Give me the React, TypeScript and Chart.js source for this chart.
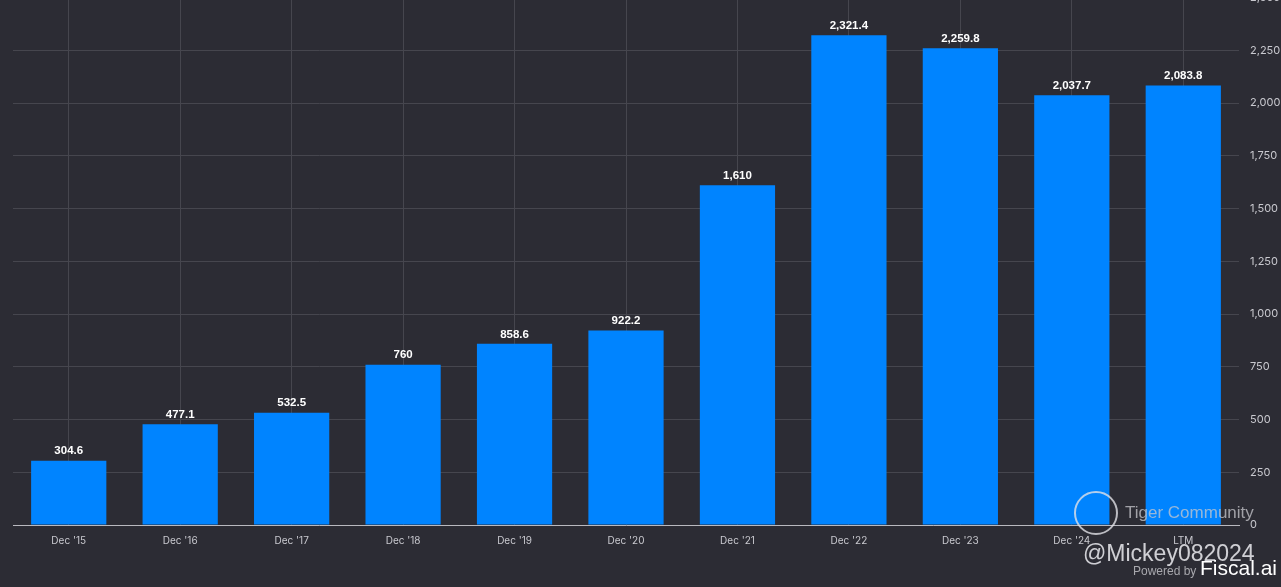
import React, { useEffect, useRef } from "react";
import { Chart, registerables } from "chart.js";

Chart.register(...registerables);

const categories = ["Dec '15", "Dec '16", "Dec '17", "Dec '18", "Dec '19", "Dec '20", "Dec '21", "Dec '22", "Dec '23", "Dec '24", "LTM"];
const values = [304.6, 477.1, 532.5, 760, 858.6, 922.2, 1610, 2321.4, 2259.8, 2037.7, 2083.8];
const yTicksMax = 2500;
const yTickStep = 250;

const BG = "#2c2c34";

const labelPlugin = {
  id: "barLabels",
  afterDatasetsDraw(chart: any) {
    const ctx = chart.ctx;
    const meta = chart.getDatasetMeta(0);
    ctx.save();
    ctx.fillStyle = "#ffffff";
    ctx.font = "bold 11.5px 'Liberation Sans', Arial, sans-serif";
    ctx.textAlign = "center";
    ctx.textBaseline = "middle";
    meta.data.forEach((bar: any, i: number) => {
      const v = values[i];
      ctx.fillText(v.toLocaleString("en-US", { maximumFractionDigits: 1 }), bar.x, bar.y - 9.5);
    });
    ctx.restore();
  },
};

export default function App() {
  const ref = useRef<HTMLCanvasElement | null>(null);
  useEffect(() => {
    if (!ref.current) return;
    const chart = new Chart(ref.current, {
      type: "bar",
      data: {
        labels: categories,
        datasets: [
          {
            data: values,
            backgroundColor: "#0084ff",
            borderWidth: 0,
            barPercentage: 0.675,
            categoryPercentage: 1,
          },
        ],
      },
      options: {
        animation: false,
        responsive: false,
        maintainAspectRatio: false,
        layout: { padding: { top: 17, left: 13, right: 0, bottom: 0 } },
        plugins: { legend: { display: false }, tooltip: { enabled: false } },
        scales: {
          x: {
            grid: { color: "#46464e", drawTicks: false, lineWidth: 1, offset: false },
            border: { display: true, color: "#b9b9bf", width: 1 },
            ticks: {
              color: "#c9c9cf",
              font: { size: 10, family: "Inter, 'Noto Sans', sans-serif" },
              padding: 10,
              maxRotation: 0,
            },
            afterFit: (axis: any) => {
              axis.height = 62;
            },
          },
          y: {
            position: "right",
            min: 0,
            max: yTicksMax,
            grid: { color: "#46464e", drawTicks: false },
            border: { display: false },
            ticks: {
              stepSize: yTickStep,
              color: "#c9c9cf",
              font: { size: 11, family: "Inter, 'Noto Sans', sans-serif" },
              padding: 11,
              callback: (v: any) => Number(v).toLocaleString("en-US"),
            },
            afterFit: (axis: any) => {
              axis.width = 42;
            },
          },
        },
      },
      plugins: [labelPlugin],
    });
    return () => chart.destroy();
  }, []);

  return (
    <div style={{ position: "fixed", left: 0, top: 0, width: 1281, height: 587, background: BG, overflow: "hidden", fontFamily: "Inter, 'Noto Sans', sans-serif" }}>
      <canvas ref={ref} width={1281} height={607} style={{ position: "absolute", left: 0, top: -20, width: 1281, height: 607 }} />
      <div style={{ position: "absolute", left: 1074, top: 491, width: 40, height: 40, borderRadius: "50%", border: "2.5px solid rgba(225,225,230,0.8)" }} />
      <div style={{ position: "absolute", left: 1125, top: 503, fontSize: 17, color: "rgba(200,200,205,0.75)", whiteSpace: "nowrap", fontFamily: "'Liberation Sans', Arial, sans-serif" }}>Tiger Community</div>
      <div style={{ position: "absolute", left: 1083, top: 540, fontSize: 23, color: "rgba(225,225,230,0.9)", whiteSpace: "nowrap", fontFamily: "'Liberation Sans', Arial, sans-serif" }}>@Mickey082024</div>
      <div style={{ position: "absolute", left: 1133, top: 564, fontSize: 12, color: "rgba(190,190,195,0.85)", whiteSpace: "nowrap", fontFamily: "'Liberation Sans', Arial, sans-serif" }}>Powered by</div>
      <div style={{ position: "absolute", left: 1200, top: 556, fontSize: 21, color: "#ffffff", whiteSpace: "nowrap", fontFamily: "'Liberation Sans', Arial, sans-serif" }}>Fiscal.ai</div>
    </div>
  );
}
